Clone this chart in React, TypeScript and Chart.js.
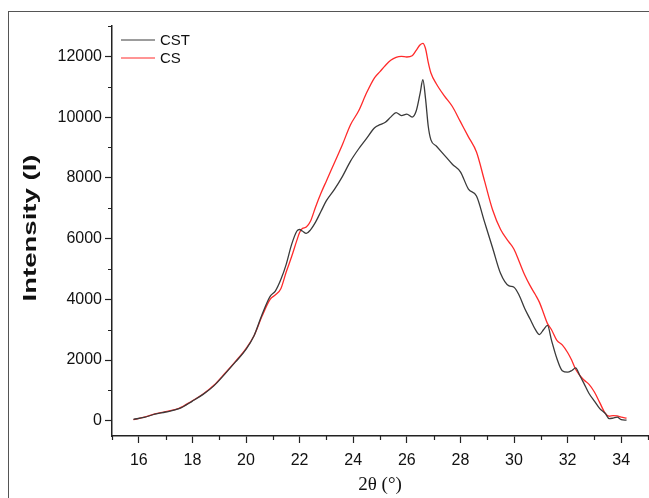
import React, { useEffect, useRef } from 'react';
import { Chart, registerables } from 'chart.js';

Chart.register(...registerables);

// 2θ positions (degrees)
const twoTheta = [
  15.8, 16.2, 16.6, 17.0, 17.5, 18.0, 18.4, 18.8, 19.2, 19.6, 20.0, 20.3, 20.6, 20.9, 21.1, 21.3, 21.5, 21.7, 21.9, 22.0,
  22.1, 22.25, 22.4, 22.6, 22.8, 23.0, 23.3, 23.6, 23.9, 24.2, 24.5, 24.8, 25.0, 25.2, 25.4, 25.6, 25.8, 26.0, 26.2, 26.35,
  26.5, 26.6, 26.7, 26.8, 26.9, 27.1, 27.4, 27.7, 28.0, 28.3, 28.6, 28.9, 29.2, 29.5, 29.8, 30.0, 30.2, 30.4, 30.6, 30.8,
  30.95, 31.1, 31.25, 31.4, 31.6, 31.8, 32.0, 32.15, 32.3, 32.45, 32.6, 32.8, 33.0, 33.2, 33.4, 33.55, 33.7, 33.85, 34.0, 34.2,
];

const cstIntensity = [
  50, 110, 220, 290, 400, 650, 870, 1150, 1530, 1930, 2350, 2800, 3500, 4100, 4280, 4650, 5150, 5800, 6250, 6300,
  6250, 6170, 6280, 6550, 6900, 7250, 7620, 8050, 8550, 8950, 9300, 9650, 9750, 9830, 10000, 10150, 10050, 10100, 10000, 10200,
  10800, 11230, 10600, 9700, 9250, 9050, 8750, 8450, 8200, 7630, 7400, 6550, 5700, 4850, 4450, 4400, 4120, 3700, 3350, 3000,
  2840, 3000, 3140, 2650, 2050, 1650, 1600, 1650, 1740, 1500, 1250, 900, 650, 400, 250, 70, 90, 120, 40, 20,
];

const csIntensity = [
  40, 120, 230, 300, 410, 660, 880, 1170, 1550, 1950, 2380, 2800, 3450, 4000, 4150, 4350, 4900, 5400, 5950, 6200,
  6330, 6380, 6560, 7050, 7500, 7900, 8500, 9100, 9750, 10200, 10800, 11300, 11500, 11700, 11870, 11970, 12000, 11980, 12020, 12200,
  12380, 12430, 12250, 11800, 11450, 11100, 10700, 10350, 9850, 9350, 8850, 7900, 6950, 6300, 5900, 5650, 5230, 4800, 4450, 4150,
  3900, 3550, 3200, 3000, 2650, 2500, 2250, 2000, 1700, 1500, 1350, 1200, 950, 600, 250, 150, 170, 160, 120, 90,
];

const seriesLabels = ['CST', 'CS'];
const seriesColors = ['#3a3a3a', '#ff2a2a'];

const xMajorTicks = [16, 18, 20, 22, 24, 26, 28, 30, 32, 34];
const xMinorTicks = [15, 17, 19, 21, 23, 25, 27, 29, 31, 33, 35];
const yMajorTicks = [0, 2000, 4000, 6000, 8000, 10000, 12000];
const yMinorTicks = [1000, 3000, 5000, 7000, 9000, 11000, 13000];

const xTitle = '2θ (°)';
const yTitle = 'Intensity (I)';

const AXIS_COLOR = '#222222';

const minorTicksPlugin = {
  id: 'minorTicks',
  afterDraw(chart: any) {
    const { ctx, chartArea, scales } = chart;
    ctx.save();
    ctx.strokeStyle = AXIS_COLOR;
    ctx.lineWidth = 1.2;
    ctx.beginPath();
    xMinorTicks.forEach((v) => {
      const px = Math.round(scales.x.getPixelForValue(v)) + 0.5;
      ctx.moveTo(px, chartArea.bottom);
      ctx.lineTo(px, chartArea.bottom + 4);
    });
    yMinorTicks.forEach((v) => {
      const py = Math.round(scales.y.getPixelForValue(v)) + 0.5;
      ctx.moveTo(chartArea.left - 4, py);
      ctx.lineTo(chartArea.left, py);
    });
    ctx.stroke();
    ctx.restore();
  },
};

const insideLegendPlugin = {
  id: 'insideLegend',
  afterDraw(chart: any) {
    const { ctx, chartArea } = chart;
    ctx.save();
    ctx.font = '15px "Liberation Sans", Arial, sans-serif';
    ctx.textBaseline = 'middle';
    ctx.textAlign = 'left';
    chart.data.datasets.forEach((ds: any, i: number) => {
      const y = chartArea.top + 14 + i * 18;
      const x0 = chartArea.left + 9;
      ctx.strokeStyle = ds.borderColor;
      ctx.lineWidth = 1;
      ctx.beginPath();
      ctx.moveTo(x0, y);
      ctx.lineTo(x0 + 34, y);
      ctx.stroke();
      ctx.fillStyle = '#111111';
      ctx.fillText(ds.label, x0 + 39, y + 1);
    });
    ctx.restore();
  },
};

// y-axis title, drawn slightly elongated along its baseline like the reference
const yTitlePlugin = {
  id: 'yTitleStretched',
  afterDraw(chart: any) {
    const { ctx, chartArea } = chart;
    ctx.save();
    ctx.translate(31, (chartArea.top + chartArea.bottom) / 2 - 3);
    ctx.rotate(-Math.PI / 2);
    ctx.scale(1.45, 1);
    ctx.font = 'bold 19px "Liberation Sans", Arial, sans-serif';
    ctx.fillStyle = '#111111';
    ctx.textAlign = 'center';
    ctx.textBaseline = 'middle';
    ctx.fillText(yTitle, 0, 0);
    ctx.restore();
  },
};

export default function App() {
  const canvasRef = useRef<HTMLCanvasElement | null>(null);

  useEffect(() => {
    const canvas = canvasRef.current;
    if (!canvas) return;
    const chart = new Chart(canvas, {
      type: 'line',
      data: {
        datasets: [cstIntensity, csIntensity].map((vals, i) => ({
          label: seriesLabels[i],
          data: twoTheta.map((x, j) => ({ x, y: vals[j] })),
          borderColor: seriesColors[i],
          backgroundColor: seriesColors[i],
          borderWidth: 1.3,
          pointRadius: 0,
          fill: false,
          cubicInterpolationMode: 'monotone' as const,
        })),
      },
      options: {
        responsive: false,
        animation: false,
        layout: { padding: { top: 26, right: 1, left: 0, bottom: 0 } },
        plugins: {
          legend: { display: false },
          tooltip: { enabled: false },
        },
        scales: {
          x: {
            type: 'linear',
            min: 15,
            max: 35,
            afterFit: (s: any) => {
              s.height = 62;
            },
            afterBuildTicks: (s: any) => {
              s.ticks = xMajorTicks.map((v) => ({ value: v }));
            },
            grid: {
              drawOnChartArea: false,
              drawTicks: true,
              tickLength: 7,
              tickColor: AXIS_COLOR,
              tickWidth: 1.2,
            },
            border: { color: AXIS_COLOR, width: 1.5 },
            ticks: {
              color: '#111111',
              font: { family: '"Liberation Sans", Arial, sans-serif', size: 16 },
              padding: 8,
              maxRotation: 0,
              autoSkip: false,
              callback: (v: any) => String(v),
            },
            title: {
              display: true,
              text: xTitle,
              color: '#111111',
              font: { family: '"Liberation Serif", "Times New Roman", serif', size: 19 },
              padding: { top: 0, bottom: 2 },
            },
          },
          y: {
            type: 'linear',
            min: -500,
            max: 13000,
            afterFit: (s: any) => {
              s.width = 112;
            },
            afterBuildTicks: (s: any) => {
              s.ticks = yMajorTicks.map((v) => ({ value: v }));
            },
            grid: {
              drawOnChartArea: false,
              drawTicks: true,
              tickLength: 7,
              tickColor: AXIS_COLOR,
              tickWidth: 1.2,
            },
            border: { color: AXIS_COLOR, width: 1.5 },
            ticks: {
              color: '#111111',
              font: { family: '"Liberation Sans", Arial, sans-serif', size: 16 },
              padding: 3,
              autoSkip: false,
              callback: (v: any) => String(v),
            },
            title: { display: false },
          },
        },
      },
      plugins: [minorTicksPlugin, insideLegendPlugin, yTitlePlugin],
    });
    return () => chart.destroy();
  }, []);

  return (
    <div
      style={{
        position: 'fixed',
        left: 0,
        top: 0,
        width: 649,
        height: 498,
        overflow: 'hidden',
        background: '#ffffff',
      }}
    >
      <div
        style={{
          position: 'absolute',
          left: 8,
          top: 11,
          width: 700,
          height: 600,
          borderLeft: '1px solid #555',
          borderTop: '1px solid #555',
          boxSizing: 'border-box',
        }}
      />
      <canvas
        ref={canvasRef}
        width={649}
        height={498}
        style={{ position: 'absolute', left: 0, top: 0, width: 649, height: 498 }}
      />
    </div>
  );
}
